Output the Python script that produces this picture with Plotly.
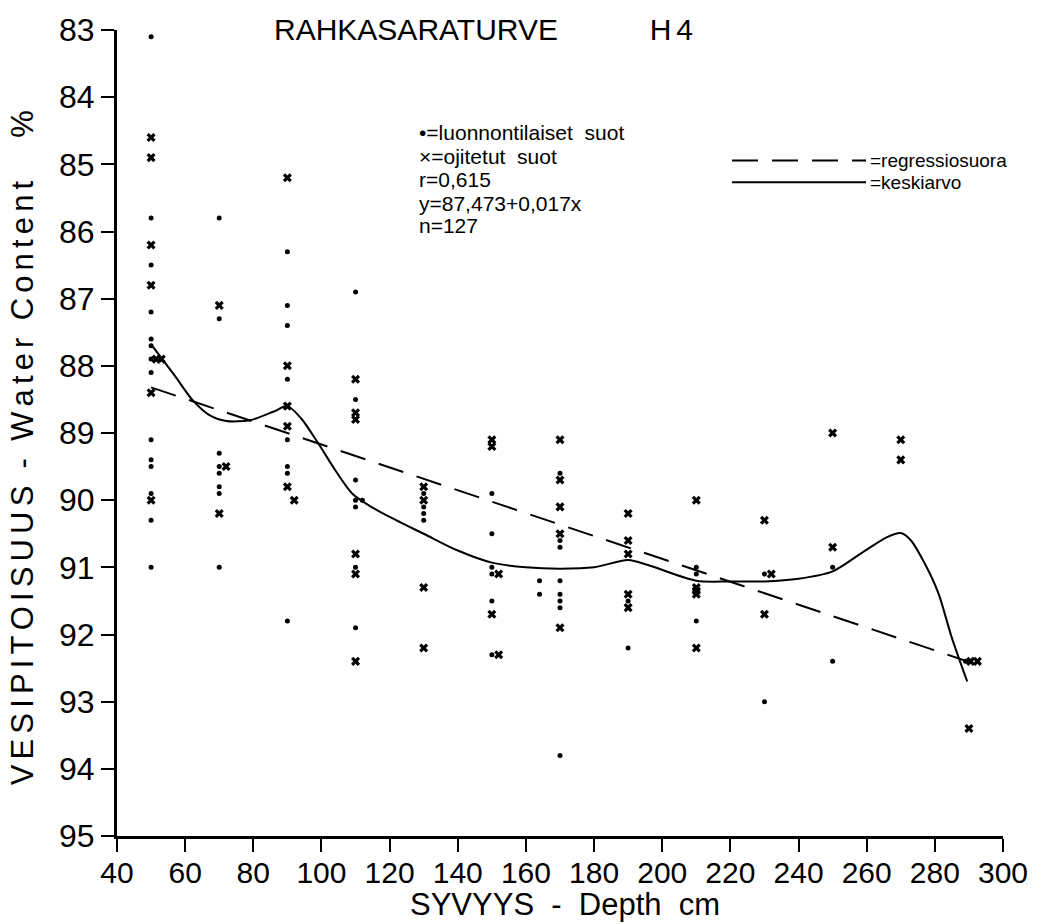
import plotly.graph_objects as go

# ---- data ----
# natural mires (dots)
nat_x = [50]*14 + [70]*8 + [90]*8 + [110, 110, 110, 110, 112, 110, 110, 110] + [130]*4 + [150]*6 \
    + [170, 170, 170, 170, 164, 170, 164, 170, 170, 170] + [190, 190] + [210, 210, 210] + [230, 230] + [250, 250] + [289]
nat_y = [83.1, 85.8, 86.5, 87.2, 87.6, 87.7, 87.9, 88.1, 89.1, 89.4, 89.5, 89.9, 90.3, 91.0,
         85.8, 87.3, 89.3, 89.5, 89.6, 89.8, 89.9, 91.0,
         86.3, 87.1, 87.4, 88.2, 89.1, 89.5, 89.6, 91.8,
         86.9, 88.5, 89.7, 90.0, 90.0, 90.1, 91.0, 91.9,
         89.9, 90.1, 90.2, 90.3,
         89.9, 90.5, 91.0, 91.1, 91.5, 92.3,
         89.6, 90.6, 90.7, 91.2, 91.2, 91.4, 91.4, 91.5, 91.6, 93.8,
         91.5, 92.2,
         91.0, 91.1, 91.8,
         91.1, 93.0,
         91.0, 92.4,
         92.4]

# drained mires (crosses)
dr_x = [50, 50, 50, 50, 51.5, 53, 50, 50,
        70, 70, 72,
        90, 90, 90, 90, 90, 92,
        110, 110, 110, 110, 110, 110,
        130, 130, 130, 130,
        150, 150, 150, 152, 152,
        170, 170, 170, 170, 170,
        190, 190, 190, 190, 190,
        210, 210, 210, 210, 210,
        230, 230, 232,
        250, 250,
        270, 270,
        290.5, 292.5, 290]
dr_y = [84.6, 84.9, 86.2, 86.8, 87.9, 87.9, 88.4, 90.0,
        87.1, 90.2, 89.5,
        85.2, 88.0, 88.6, 88.9, 89.8, 90.0,
        88.2, 88.7, 88.8, 90.8, 91.1, 92.4,
        89.8, 90.0, 91.3, 92.2,
        89.1, 89.2, 91.7, 91.1, 92.3,
        89.1, 89.7, 90.1, 90.5, 91.9,
        90.2, 90.6, 90.8, 91.4, 91.6,
        90.0, 91.3, 91.35, 91.4, 92.2,
        90.3, 91.7, 91.1,
        89.0, 90.7,
        89.1, 89.4,
        92.4, 92.4, 93.4]

# regression line end points (y = 87.473 + 0.017x)
reg_x = [50, 289]
reg_y = [88.32, 92.39]

# mean curve (keskiarvo)
mean_x = [50, 57, 62, 67, 72, 79, 86, 90, 94, 99, 104, 109, 114, 120, 130, 140, 150, 160, 170,
          180, 190, 196, 210, 220, 230, 240, 250, 259, 266, 270, 273, 277, 281, 285, 289.5]
mean_y = [87.68, 88.15, 88.5, 88.73, 88.82, 88.81, 88.68, 88.6, 88.78, 89.15, 89.55, 89.9, 90.08,
          90.25, 90.5, 90.75, 90.93, 91.0, 91.02, 91.0, 90.89, 90.97, 91.2, 91.21, 91.21, 91.17,
          91.06, 90.77, 90.55, 90.49, 90.6, 90.94, 91.38, 92.05, 92.7]

x_ticks = list(range(40, 301, 20))
y_ticks = list(range(83, 96))

HELV = "Liberation Sans, Arial, sans-serif"

fig = go.Figure()
fig.add_trace(go.Scatter(x=reg_x, y=reg_y, mode="lines",
                         line=dict(color="black", width=2, dash="26px,14px"), showlegend=False))
fig.add_trace(go.Scatter(x=mean_x, y=mean_y, mode="lines",
                         line=dict(color="black", width=2, shape="spline", smoothing=0.8), showlegend=False))
fig.add_trace(go.Scatter(x=nat_x, y=nat_y, mode="markers",
                         marker=dict(symbol="circle", size=5, color="black"), showlegend=False))
fig.add_trace(go.Scatter(x=dr_x, y=dr_y, mode="markers",
                         marker=dict(symbol="x", size=8, color="black"), showlegend=False))

L, R, T, B = 117, 38, 21, 88
W, H = 1041, 924
pw, ph = W - L - R, H - T - B

def px(xp):
    return (xp - L) / pw

def py(yp):
    return (H - B - yp) / ph

fig.update_layout(
    width=W, height=H, autosize=False,
    margin=dict(l=L, r=R, t=T, b=B, pad=0),
    plot_bgcolor="white", paper_bgcolor="white",
    xaxis=dict(range=[40, 300], tickvals=x_ticks, ticktext=[str(v) for v in x_ticks],
               showgrid=False, zeroline=False, showline=True, linecolor="black", linewidth=3,
               ticks="outside", ticklen=13, tickwidth=2, tickcolor="black",
               ticklabelstandoff=-5,
               tickfont=dict(family=HELV, size=30, color="black")),
    yaxis=dict(range=[95, 83], tickvals=y_ticks, ticktext=[str(v) for v in y_ticks],
               showgrid=False, zeroline=False, showline=True, linecolor="black", linewidth=3,
               ticks="outside", ticklen=13, tickwidth=2, tickcolor="black",
               tickfont=dict(family=HELV, size=32, color="black")),
)

NB = "\u00a0"
SP = "\u2006"

def spaced(word):
    return SP.join(word)

ytitle = (spaced("VESIPITOISUUS") + NB*2 + "-" + NB*2 + spaced("Water") + NB*2
          + spaced("Content") + NB*5 + "%")

anns = [
    dict(text="RAHKASARATURVE" + NB*11 + "H" + SP + "4", x=px(272), y=py(20), xanchor="left", yanchor="middle",
         font=dict(family=HELV, size=30, color="black")),
    dict(text="SYVYYS" + NB*2 + "-" + NB*2 + "Depth" + NB*2 + "cm", x=px(565), y=py(905),
         xanchor="center", yanchor="middle", font=dict(family=HELV, size=31, color="black")),
    dict(text=ytitle, x=px(22), y=py(444), xanchor="center", yanchor="middle", textangle=-90,
         font=dict(family=HELV, size=31, color="black")),
]
legend_lines = [
    ("\u2022=luonnontilaiset" + NB*2 + "suot", 125),
    ("\u00d7=ojitetut" + NB*2 + "suot", 149),
    ("r=0,615", 172),
    ("y=87,473+0,017x", 196),
    ("n=127", 219),
]
for txt, yy in legend_lines:
    anns.append(dict(text=txt, x=px(417), y=py(yy), xanchor="left", yanchor="middle",
                     font=dict(family=HELV, size=21, color="black")))
anns.append(dict(text="=regressiosuora", x=px(868), y=py(153), xanchor="left", yanchor="middle",
                 font=dict(family=HELV, size=19, color="black")))
anns.append(dict(text="=keskiarvo", x=px(868), y=py(175), xanchor="left", yanchor="middle",
                 font=dict(family=HELV, size=19, color="black")))
for a in anns:
    a.update(xref="paper", yref="paper", showarrow=False)
fig.update_layout(annotations=anns)

shapes = [
    dict(type="line", x0=px(732), x1=px(866), y0=py(153), y1=py(153),
         line=dict(color="black", width=2, dash="26px,14px")),
    dict(type="line", x0=px(732), x1=px(866), y0=py(175), y1=py(175),
         line=dict(color="black", width=2)),
]
for s in shapes:
    s.update(xref="paper", yref="paper")
fig.update_layout(shapes=shapes)

fig.write_html("out.html")
